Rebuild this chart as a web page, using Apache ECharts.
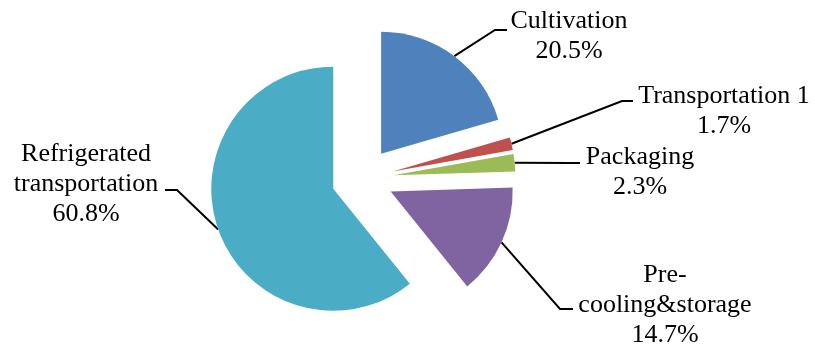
<!DOCTYPE html>
<html>
<head>
<meta charset="utf-8">
<title>Carbon footprint share by stage</title>
<script src="https://cdn.jsdelivr.net/npm/echarts@6/dist/echarts.min.js"></script>
<style>
  html, body { margin: 0; padding: 0; background: #ffffff; }
  #chart { width: 815px; height: 348px; }
</style>
</head>
<body>
<div id="chart"></div>
<script>
// Stage shares (%)
const categories = ['Cultivation', 'Transportation 1', 'Packaging', 'Pre-cooling&storage', 'Refrigerated transportation'];
const labelNames = ['Cultivation', 'Transportation 1', 'Packaging', 'Pre-\ncooling&storage', 'Refrigerated\ntransportation'];
const shares = [20.5, 1.7, 2.3, 14.7, 60.8];
const colors = ['#4F81BD', '#C0504D', '#9BBB59', '#8064A2', '#4BACC6'];

// Pie geometry
const pieCenter = [362.5, 178.5];
const pieRadius = 122;
const explode = 31;

// Label block centres and the two leader-line points that lead to each label
const labelSpots = [
  { x: 569, y: 36,  line: [[495, 30], [507, 30]] },
  { x: 724, y: 111, line: [[622, 101], [633, 101]] },
  { x: 640, y: 172, line: [[570, 163], [580, 163]] },
  { x: 665, y: 305, line: [[560, 309], [573, 309]] },
  { x: 86,  y: 184, line: [[177, 190], [165, 190]] }
];

const total = shares.reduce((a, b) => a + b, 0);

// Mid-angle of each slice, measured clockwise from 12 o'clock
const midAngles = [];
let acc = 0;
shares.forEach(v => {
  midAngles.push(((acc + v / 2) / total) * 2 * Math.PI);
  acc += v;
});

const series = shares.map((_, i) => {
  const a = midAngles[i];
  const dir = [Math.sin(a), -Math.cos(a)];
  const c = [pieCenter[0] + explode * dir[0], pieCenter[1] + explode * dir[1]];
  const arcMid = [c[0] + pieRadius * dir[0], c[1] + pieRadius * dir[1]];
  return {
    type: 'pie',
    center: c,
    radius: pieRadius,
    startAngle: 90,
    clockwise: true,
    silent: true,
    animation: false,
    avoidLabelOverlap: false,
    itemStyle: { borderWidth: 0 },
    label: {
      position: 'outside',
      alignTo: 'none',
      fontFamily: 'Liberation Serif',
      fontSize: 26,
      lineHeight: 30,
      color: '#000000',
      align: 'center',
      formatter: p => labelNames[p.dataIndex] + '\n' + p.value.toFixed(1) + '%'
    },
    labelLine: {
      lineStyle: { color: '#000000', width: 2 }
    },
    data: shares.map((v, j) => ({
      name: categories[j],
      value: v,
      itemStyle: { color: j === i ? colors[j] : 'rgba(0,0,0,0)' },
      label: { show: j === i },
      labelLine: { show: j === i }
    })),
    labelLayout: p => {
      if (p.dataIndex !== i) return {};
      const s = labelSpots[i];
      return {
        x: s.x,
        y: s.y,
        align: 'center',
        verticalAlign: 'middle',
        labelLinePoints: [arcMid, s.line[0], s.line[1]]
      };
    }
  };
});

const chart = echarts.init(document.getElementById('chart'), null, { renderer: 'canvas' });
chart.setOption({
  backgroundColor: '#ffffff',
  animation: false,
  series: series
});
</script>
</body>
</html>
